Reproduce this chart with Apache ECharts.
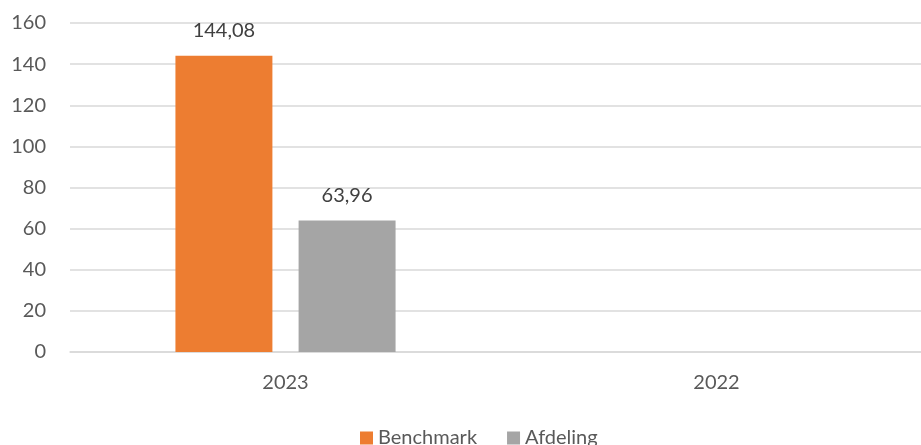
<!DOCTYPE html>
<html><head><meta charset="utf-8">
<script src="https://cdn.jsdelivr.net/npm/echarts@6/dist/echarts.min.js"></script>
<style>html,body{margin:0;padding:0;background:#fff;overflow:hidden}#c{width:932px;height:445px}</style>
</head><body><div id="c"></div>
<script>
const categories = ['2023', '2022'];
const seriesNames = ['Benchmark', 'Afdeling'];
const benchmark = [144.08, '-'];
const afdeling = [63.96, '-'];
const yTicks = {min: 0, max: 160, interval: 20};

const font = 'Lato';
const txt = '#595959';
const fs = 20;
const fmt = p => (typeof p.value === 'number') ? p.value.toFixed(2).replace('.', ',') : '';
const chart = echarts.init(document.getElementById('c'));
chart.setOption({
  animation: false,
  textStyle: {fontFamily: font},
  grid: {left: 70, top: 23, right: 0, height: 329, containLabel: false},
  legend: {
    data: seriesNames, left: 355, top: 423, itemWidth: 13, itemHeight: 13, itemGap: 30,
    icon: 'rect',
    textStyle: {fontFamily: font, fontSize: fs, color: txt, padding: [0, 0, 0, 0]}
  },
  xAxis: {
    type: 'category', data: categories,
    axisLine: {show: true, lineStyle: {color: '#d9d9d9', width: 1.5}},
    axisTick: {show: false},
    axisLabel: {fontFamily: font, fontSize: fs, color: txt, margin: 21}
  },
  yAxis: {
    type: 'value', min: yTicks.min, max: yTicks.max, interval: yTicks.interval,
    axisLine: {show: false}, axisTick: {show: false},
    splitLine: {lineStyle: {color: '#d9d9d9', width: 1.5}},
    axisLabel: {fontFamily: font, fontSize: fs, color: txt, margin: 24}
  },
  series: [
    {name: seriesNames[0], type: 'bar', data: benchmark, barWidth: '22.5%', barGap: '27%',
     itemStyle: {color: '#ED7D31'},
     label: {show: true, position: 'top', distance: 15, fontFamily: font, fontSize: fs, color: '#404040', formatter: fmt}},
    {name: seriesNames[1], type: 'bar', data: afdeling, barWidth: '22.5%', barGap: '27%',
     itemStyle: {color: '#A5A5A5'},
     label: {show: true, position: 'top', distance: 15, fontFamily: font, fontSize: fs, color: '#404040', formatter: fmt}}
  ]
});
</script></body></html>
